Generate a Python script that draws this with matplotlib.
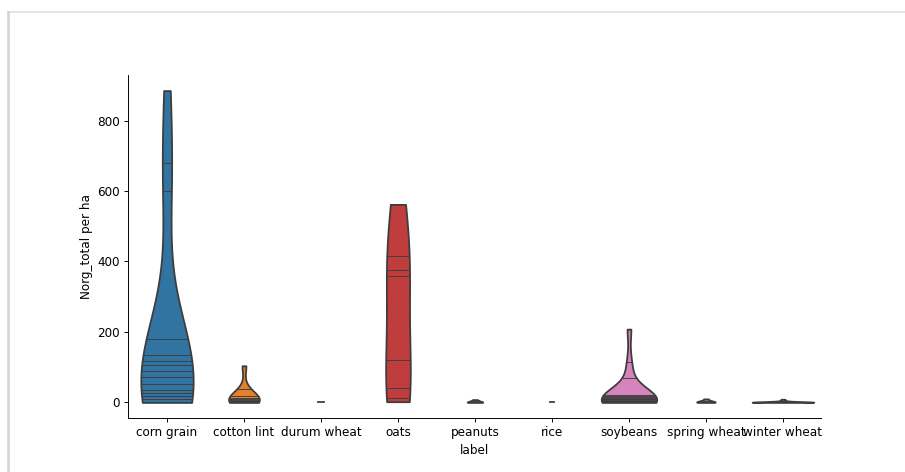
import colorsys
import numpy as np
import matplotlib
matplotlib.use("Agg")
import matplotlib.pyplot as plt
from matplotlib.lines import Line2D

# ── data: observations per crop (Norg_total per ha) ──────────────
labels = ["corn grain", "cotton lint", "durum wheat", "oats", "peanuts",
          "rice", "soybeans", "spring wheat", "winter wheat"]

corn_grain = [885, 676, 596, 180, 131, 119, 104, 90, 70, 53, 40, 30, 22,
              16, 10, 4, 0]
cotton_lint = [104, 38, 17, 12, 9, 6, 4, 3, 1, 0]
durum_wheat = [0, 0]
oats = [562, 416, 376, 357, 122, 40, 13, 2]
peanuts = [0, 0, 1, 3, 8]
rice = [0]
soybeans = [208, 113, 70, 20, 16, 14, 12, 10, 9, 8, 6, 5, 4, 3, 2, 1, 0, 0]
spring_wheat = [0, 0, 1, 2, 4, 10]
winter_wheat = [0] * 10 + [1] * 4 + [2] * 3 + [3, 5, 9]

groups = [corn_grain, cotton_lint, durum_wheat, oats, peanuts, rice,
          soybeans, spring_wheat, winter_wheat]

# ── colours: tab10 desaturated like seaborn (saturation .75) ─────
base = plt.get_cmap("tab10").colors[:len(labels)]
colors = []
for c in base:
    h, l, s = colorsys.rgb_to_hls(*c)
    colors.append(colorsys.hls_to_rgb(h, l, s * 0.75))
lum = min(colorsys.rgb_to_hls(*c)[1] for c in colors) * 0.6
gray = (lum, lum, lum)

BW_ADJUST = 1.1


def kde(obs, grid):
    obs = np.asarray(obs, float)
    bw = obs.std(ddof=1) * len(obs) ** (-1 / 5) * BW_ADJUST
    z = (grid[:, None] - obs[None, :]) / bw
    return np.exp(-0.5 * z ** 2).mean(axis=1) / (bw * np.sqrt(2 * np.pi))


# ── figure ───────────────────────────────────────────────────────
DPI = 86
fig = plt.figure(figsize=(906 / DPI, 472 / DPI), dpi=DPI)
ax = fig.add_axes([0.1418, 0.1144, 0.7649, 0.7267])

half = 0.4
max_count = max(len(g) for g in groups)
for i, (obs, col) in enumerate(zip(groups, colors)):
    obs = np.asarray(obs, float)
    scale = len(obs) / max_count
    if np.unique(obs).size == 1:
        w = half * scale
        ax.plot([i - w, i + w], [obs[0]] * 2, color=gray, linewidth=1.5)
        continue
    support = np.linspace(obs.min(), obs.max(), 100)
    dens = kde(obs, support)
    dens = dens / dens.max() * scale
    ax.fill_betweenx(support, i - half * dens, i + half * dens,
                     facecolor=col, edgecolor=gray, linewidth=1.5, zorder=2)
    for v in obs:
        idx = np.argmin(np.abs(support - v))
        w = half * dens[idx] * 0.99
        ax.plot([i - w, i + w], [support[idx]] * 2, color=gray,
                linewidth=0.75, zorder=3)

ax.set_xlim(-0.5, len(labels) - 0.5)
ax.set_xticks(range(len(labels)))
ax.set_xticklabels(labels)
ax.set_yticks([0, 200, 400, 600, 800])
ax.set_xlabel("label")
ax.set_ylabel("Norg_total per ha")
ax.spines["top"].set_visible(False)
ax.spines["right"].set_visible(False)

# screenshot frame
fig.add_artist(Line2D([8.5 / 906, 1], [1 - 11.5 / 472] * 2,
                      transform=fig.transFigure, color="#e4e4e4", linewidth=1.6))
fig.add_artist(Line2D([8.5 / 906] * 2, [0, 1 - 11.5 / 472],
                      transform=fig.transFigure, color="#d4d4d4", linewidth=2.2))

fig.savefig("out.png", dpi=DPI)
